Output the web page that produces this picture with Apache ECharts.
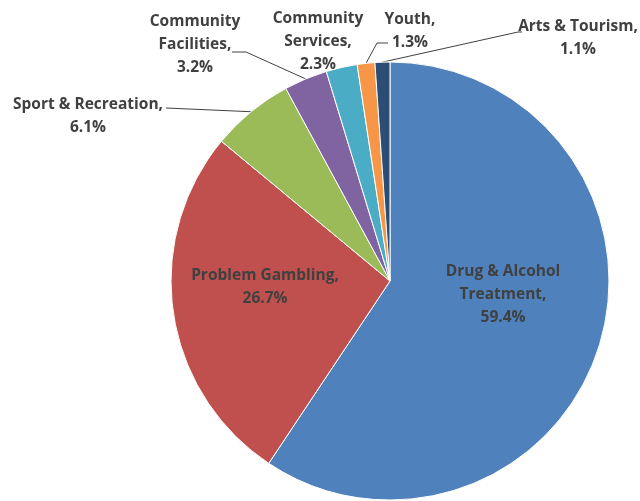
<!DOCTYPE html>
<html><head><meta charset="utf-8">
<script src="https://cdn.jsdelivr.net/npm/echarts@6/dist/echarts.min.js"></script>
<style>html,body{margin:0;padding:0;background:#fff}#c{width:640px;height:501px}</style>
</head><body><div id="c"></div>
<script>
const categories = ['Drug & Alcohol\nTreatment', 'Problem Gambling', 'Sport & Recreation', 'Community\nFacilities', 'Community\nServices', 'Youth', 'Arts & Tourism'];
const values = [59.4, 26.7, 6.1, 3.2, 2.3, 1.3, 1.1];
const colors = ['#4F81BD', '#C0504D', '#9BBB59', '#8064A2', '#4BACC6', '#F79646', '#2C4D75'];

// label placement (text centre) and leader-line bends, by index
const labelPos = [
  {x: 503, y: 295, line: null},
  {x: 265, y: 287, line: null},
  {x: 88, y: 116, line: [[166, 108]]},
  {x: 195, y: 45, line: [[246, 52], [232, 52]]},
  {x: 318, y: 42, line: null},
  {x: 410, y: 31, line: [[377, 43], [388, 43]]},
  {x: 578, y: 38, line: [[518, 32], [522, 32]]}
];

const chart = echarts.init(document.getElementById('c'));
chart.setOption({
  animation: false,
  series: [{
    type: 'pie',
    center: [390, 281],
    radius: 219,
    startAngle: 90,
    clockwise: true,
    avoidLabelOverlap: false,
    itemStyle: {borderColor: '#fff', borderWidth: 1},
    label: {
      show: true,
      position: 'outside',
      formatter: p => p.name + ',\n' + p.value.toFixed(1) + '%',
      color: '#404040',
      fontFamily: 'Open Sans',
      fontWeight: 'bold',
      fontSize: 15.5,
      lineHeight: 23,
      align: 'center'
    },
    labelLine: {show: true, lineStyle: {color: '#404040', width: 1}, length: 10, length2: 10},
    labelLayout: function (params) {
      const lp = labelPos[params.dataIndex];
      const res = {x: lp.x, y: lp.y, align: 'center', verticalAlign: 'middle'};
      if (lp.line && params.labelLinePoints) {
        res.labelLinePoints = [params.labelLinePoints[0]].concat(lp.line);
      }
      return res;
    },
    data: categories.map((c, i) => ({
      name: c, value: values[i],
      itemStyle: {color: colors[i]},
      labelLine: {show: !!labelPos[i].line}
    }))
  }]
});
</script></body></html>
